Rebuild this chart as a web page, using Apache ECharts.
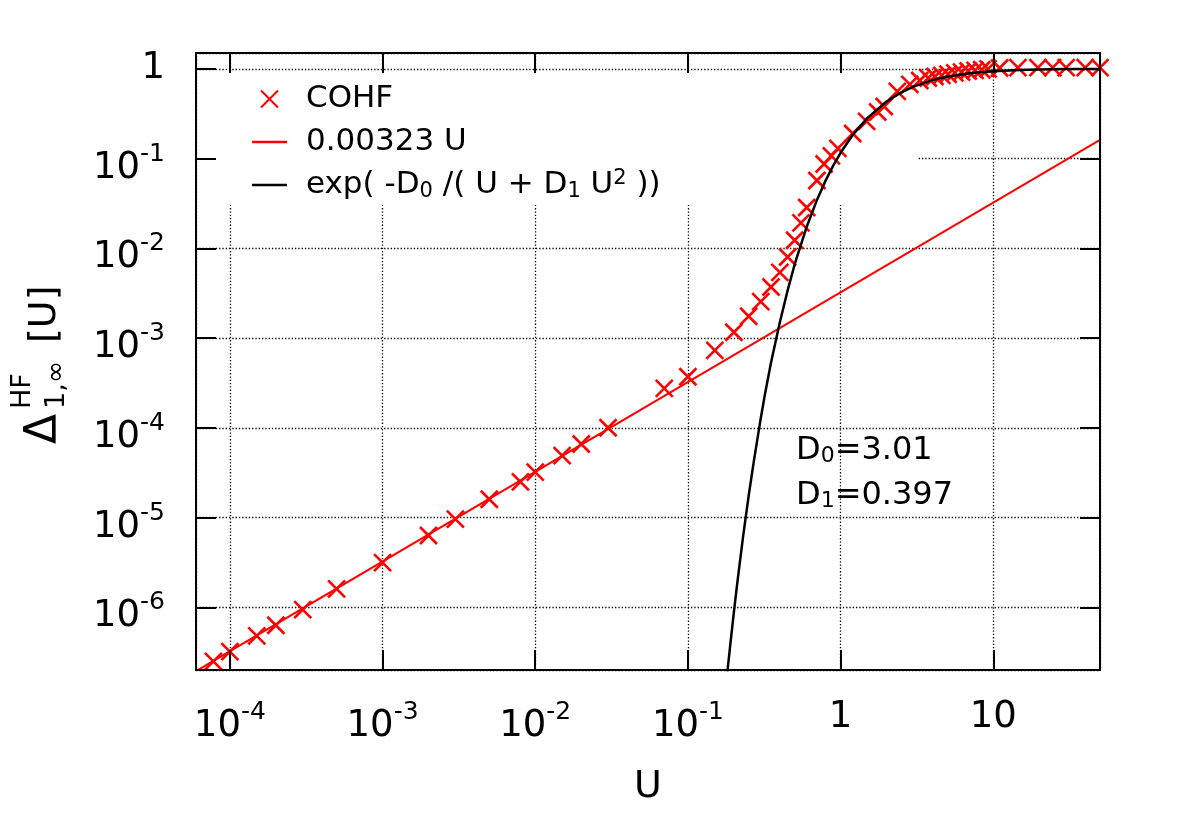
<!DOCTYPE html>
<html><head><meta charset="utf-8">
<script src="https://cdn.jsdelivr.net/npm/echarts@6/dist/echarts.min.js"></script>
<style>html,body{margin:0;padding:0;background:#fff}#c{width:1180px;height:825px}</style>
</head><body><div id="c"></div>
<script>
// ---- data ----
const xMin = 6e-5, xMax = 50;
const yMin = 2e-7, yMax = 1.5;
const xTickExp = [-4, -3, -2, -1, 0, 1];
const yTickExp = [-6, -5, -4, -3, -2, -1, 0];

const cohfU = [7.8e-5, 1e-4, 1.5e-4, 2e-4, 3e-4, 5e-4, 1e-3, 2e-3, 3e-3, 5e-3, 8e-3, 0.01, 0.015, 0.02, 0.03, 0.07, 0.1, 0.15,
  0.2, 0.25, 0.3, 0.35, 0.4, 0.45, 0.5, 0.55, 0.6, 0.7, 0.78, 0.87, 0.96, 1.2, 1.48, 1.75, 1.93, 2.35, 2.84, 3.3, 3.75, 4.15,
  4.6, 5.06, 5.6, 6.2, 6.85, 7.6, 8.4, 9.25, 11, 14.5, 19.6, 24.5, 30, 40, 50];
const cohfD = [2.5e-7, 3.2e-7, 4.8e-7, 6.3e-7, 9.4e-7, 1.6e-6, 3.15e-6, 6.3e-6, 9.6e-6, 1.6e-5, 2.5e-5, 3.2e-5, 4.9e-5, 6.6e-5, 1.0e-4, 2.75e-4, 3.7e-4, 7.3e-4,
  1.16e-3, 1.75e-3, 2.55e-3, 3.7e-3, 5.4e-3, 8.0e-3, 0.0123, 0.0192, 0.0285, 0.057, 0.087, 0.107, 0.13, 0.19, 0.26, 0.33, 0.38, 0.56, 0.67, 0.74, 0.79, 0.82,
  0.845, 0.87, 0.9, 0.92, 0.945, 0.96, 0.975, 1.0, 1.02, 1.03, 1.03, 1.03, 1.03, 1.03, 1.03];

const linU = [6e-5, 50];
const linD = [1.94e-7, 0.1615];

const fitU = [0.18, 0.19, 0.2, 0.21, 0.22, 0.23, 0.25, 0.27, 0.3, 0.32, 0.35, 0.4, 0.45, 0.5, 0.6, 0.7, 0.8, 0.9, 1.0,
  1.2, 1.5, 2, 2.5, 3, 4, 5, 7, 10, 15, 20, 30, 50];
const fitD = [1.7e-7, 4.0e-7, 8.8e-7, 1.8e-6, 3.4e-6, 6.2e-6, 1.75e-5, 4.2e-5, 1.28e-4, 2.4e-4, 5.3e-4, 1.5e-3, 3.4e-3, 6.6e-3, 0.0174, 0.0346, 0.0575, 0.085, 0.116,
  0.183, 0.284, 0.432, 0.546, 0.633, 0.748, 0.817, 0.892, 0.941, 0.972, 0.983, 0.992, 0.997];

const names = ['COHF', '0.00323 U', 'exp( -D0 /( U + D1 U2 ))'];
// ---------------------------------------

const FF = 'DejaVu Sans';
function tickFmt(exps) {
  return function (v) {
    const e = Math.log10(v), r = Math.round(e);
    if (Math.abs(e - r) > 1e-6 || exps.indexOf(r) < 0) return '';
    if (r === 0) return '{p|1}';
    if (r === 1) return '{p|10}';
    return '{m|10}{s|' + r + '}';
  };
}
const tickRich = {
  p: { fontFamily: FF, fontSize: 37, color: '#000', lineHeight: 56 },
  m: { fontFamily: FF, fontSize: 37, color: '#000', lineHeight: 56, verticalAlign: 'bottom' },
  s: { fontFamily: FF, fontSize: 25, color: '#000', lineHeight: 56, verticalAlign: 'top', padding: [11, 0, 0, 0] }
};
const frameLine = { show: true, lineStyle: { color: '#000', width: 2 } };
const ticks = { show: true, inside: true, length: 20, lineStyle: { color: '#000', width: 2 } };
const gridLine = { show: true, lineStyle: { color: '#000', width: 1.3, type: [1.3, 2] } };
const noLbl = { show: false };
const lineIcon = 'path://M0,0H100V7H0Z';

const chart = echarts.init(document.getElementById('c'), null, { renderer: 'canvas' });
chart.setOption({
  animation: false,
  backgroundColor: '#fff',
  grid: { left: 196, right: 80, top: 53, bottom: 155, containLabel: false },
  xAxis: [
    { type: 'log', min: xMin, max: xMax, position: 'bottom', z: 5,
      axisLine: frameLine, axisTick: ticks, splitLine: { show: false },
      axisLabel: { margin: 19, formatter: tickFmt(xTickExp), rich: tickRich },
      name: 'U', nameLocation: 'middle', nameGap: 98,
      nameTextStyle: { fontFamily: FF, fontSize: 38, color: '#000' } },
    { type: 'log', min: xMin, max: xMax, position: 'top', z: 5,
      axisLine: frameLine, axisTick: ticks, splitLine: { show: false }, axisLabel: noLbl },
    { type: 'log', min: xMin, max: xMax, position: 'bottom', z: 0,
      axisLine: { show: false }, axisTick: { show: false }, axisLabel: noLbl, splitLine: gridLine }
  ],
  yAxis: [
    { type: 'log', min: yMin, max: yMax, position: 'left', z: 5,
      axisLine: frameLine, axisTick: ticks, splitLine: { show: false },
      axisLabel: { margin: 31, formatter: tickFmt(yTickExp), rich: tickRich } },
    { type: 'log', min: yMin, max: yMax, position: 'right', z: 5,
      axisLine: frameLine, axisTick: ticks, splitLine: { show: false }, axisLabel: noLbl },
    { type: 'log', min: yMin, max: yMax, position: 'left', z: 0,
      axisLine: { show: false }, axisTick: { show: false }, axisLabel: noLbl, splitLine: gridLine }
  ],
  legend: {
    show: true, orient: 'vertical', left: 247, top: 77, itemWidth: 35, itemHeight: 17, itemGap: 9,
    data: [
      { name: names[0] },
      { name: names[1], icon: lineIcon },
      { name: names[2], icon: lineIcon }
    ],
    formatter: function (n) {
      if (n === names[2]) return 'exp( -D{sb|0} /( U + D{sb|1} U{sp|2} ))';
      return n;
    },
    textStyle: {
      fontFamily: FF, fontSize: 31, color: '#000', lineHeight: 34, padding: [0, 0, 0, 14],
      rich: {
        sb: { fontFamily: FF, fontSize: 21, color: '#000', verticalAlign: 'bottom' },
        sp: { fontFamily: FF, fontSize: 21, color: '#000', verticalAlign: 'top' }
      }
    }
  },
  graphic: [
    { type: 'rect', silent: true, z: 1, shape: { x: 198, y: 72, width: 720, height: 133 }, style: { fill: '#fff' } },
    { type: 'text', z: 6, x: 796, y: 451, style: {
        text: 'D{sb|0}=3.01', fontFamily: FF, fontSize: 32, fill: '#000', align: 'left', verticalAlign: 'middle',
        rich: { sb: { fontFamily: FF, fontSize: 22, fill: '#000', verticalAlign: 'bottom' } } } },
    { type: 'text', z: 6, x: 796, y: 496, style: {
        text: 'D{sb|1}=0.397', fontFamily: FF, fontSize: 32, fill: '#000', align: 'left', verticalAlign: 'middle',
        rich: { sb: { fontFamily: FF, fontSize: 22, fill: '#000', verticalAlign: 'bottom' } } } },
    { type: 'group', x: 45, y: 363, rotation: Math.PI / 2, z: 6, children: [
        { type: 'text', x: -81, y: 0, style: { text: 'Δ', fontFamily: FF, fontSize: 44, fill: '#000', align: 'left', verticalAlign: 'middle' } },
        { type: 'text', x: -46, y: -22, style: { text: 'HF', fontFamily: FF, fontSize: 27, fill: '#000', align: 'left', verticalAlign: 'middle' } },
        { type: 'text', x: -46, y: 12, style: { text: '1,∞', fontFamily: FF, fontSize: 27, fill: '#000', align: 'left', verticalAlign: 'middle' } },
        { type: 'text', x: 20, y: 0, style: { text: '[U]', fontFamily: FF, fontSize: 38, fill: '#000', align: 'left', verticalAlign: 'middle' } }
      ] }
  ],
  series: [
    { type: 'scatter', name: names[0], xAxisIndex: 0, yAxisIndex: 0, z: 2,
      data: cohfU.map((u, i) => [u, cohfD[i]]),
      symbol: 'path://M0,0L10,10M10,0L0,10', symbolSize: 17,
      itemStyle: { color: 'rgba(0,0,0,0)', borderColor: '#ff0000', borderWidth: 2.6, opacity: 1 } },
    { type: 'line', name: names[1], xAxisIndex: 0, yAxisIndex: 0, z: 3,
      data: linU.map((u, i) => [u, linD[i]]), symbol: 'none', showSymbol: false,
      lineStyle: { color: '#ff0000', width: 2 }, itemStyle: { color: '#ff0000' } },
    { type: 'line', name: names[2], xAxisIndex: 0, yAxisIndex: 0, z: 3,
      data: fitU.map((u, i) => [u, fitD[i]]), symbol: 'none', showSymbol: false,
      lineStyle: { color: '#000000', width: 2.5 }, itemStyle: { color: '#000000' } }
  ]
});
</script></body></html>
